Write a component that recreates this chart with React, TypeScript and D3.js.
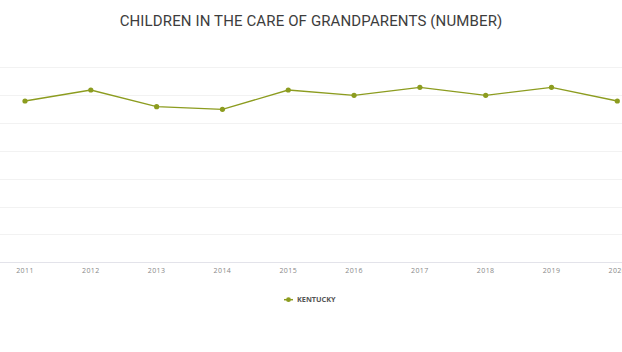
import React from "react";
import * as d3 from "d3";

const years = ["2011","2012","2013","2014","2015","2016","2017","2018","2019","2020"];
const kentucky = [115800,123700,111700,109800,123700,119900,125650,119900,125650,115800];
const yTicks = [0,20000,40000,60000,80000,100000,120000,140000];
const seriesName = "KENTUCKY";
const title = "CHILDREN IN THE CARE OF GRANDPARENTS (NUMBER)";

export default function App() {
  const W = 622, H = 352;
  const x = d3.scalePoint<string>().domain(years).range([25, 617.3]);
  const y = d3.scaleLinear().domain([0, 140000]).range([262.3, 67.3]);
  const color = "#8c9c1f";
  const line = d3.line<number>().x((_, i) => x(years[i])!).y(d => y(d));
  return (
    <svg width={W} height={H} style={{ position: "absolute", left: 0, top: 0, background: "#fff" }}>
      <text x={311} y={26.2} textAnchor="middle" fontFamily="Roboto" fontSize={15} letterSpacing={0.13} fill="#3d3d3d">{title}</text>
      {yTicks.map((t, i) => (
        <line key={t} x1={0} x2={W} y1={Math.round(y(t)) + 0.5} y2={Math.round(y(t)) + 0.5}
          stroke={i === 0 ? "#e3e3ea" : "#f2f2f2"} strokeWidth={1} />
      ))}
      {years.map(yr => (
        <text key={yr} x={x(yr)} y={273.3} textAnchor="middle" fontFamily="'Open Sans'" fontSize={7} fill="#888" letterSpacing={0.4}>{yr}</text>
      ))}
      <path d={line(kentucky) || ""} fill="none" stroke={color} strokeWidth={1.3} />
      {kentucky.map((v, i) => (
        <circle key={i} cx={x(years[i])} cy={y(v)} r={2.6} fill={color} />
      ))}
      <g transform="translate(288.5,299.7)">
        <line x1={-4.5} x2={4.5} y1={0} y2={0} stroke={color} strokeWidth={1.5} />
        <circle cx={0} cy={0} r={2.4} fill={color} />
        <text x={8.5} y={2.5} fontFamily="'Open Sans'" fontWeight="bold" fontSize={7.3} fill="#555">{seriesName}</text>
      </g>
    </svg>
  );
}
